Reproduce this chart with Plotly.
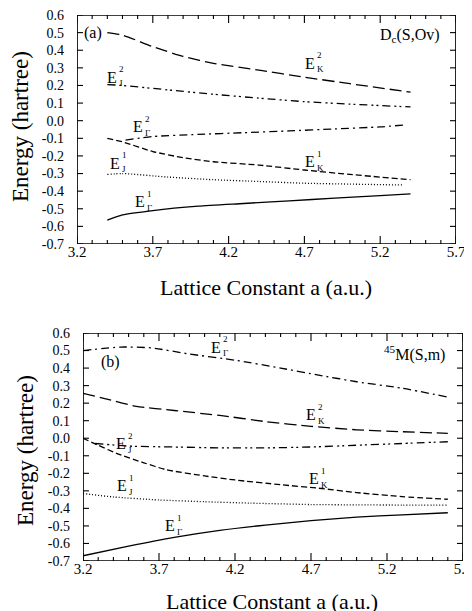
import plotly.graph_objects as go

# ---------------- data: panel (a) D_c(S,Ov) ----------------
a_EK2_x = [3.4, 3.5, 3.7, 3.9, 4.1, 4.4, 4.7, 5.0, 5.4]
a_EK2_y = [0.50, 0.486, 0.42, 0.365, 0.326, 0.287, 0.247, 0.21, 0.162]
a_EJ2_x = [3.4, 3.5, 3.8, 4.1, 4.4, 4.7, 5.0, 5.4]
a_EJ2_y = [0.205, 0.20, 0.175, 0.15, 0.128, 0.108, 0.094, 0.078]
a_EG2_x = [3.52, 3.7, 4.0, 4.3, 4.6, 4.9, 5.2, 5.35]
a_EG2_y = [-0.11, -0.09, -0.078, -0.068, -0.058, -0.047, -0.035, -0.025]
a_EK1_x = [3.4, 3.5, 3.7, 3.9, 4.1, 4.4, 4.7, 5.0, 5.4]
a_EK1_y = [-0.10, -0.12, -0.175, -0.21, -0.233, -0.252, -0.28, -0.305, -0.335]
a_EJ1_x = [3.4, 3.5, 3.8, 4.1, 4.4, 4.7, 5.0, 5.35]
a_EJ1_y = [-0.305, -0.30, -0.32, -0.335, -0.345, -0.355, -0.36, -0.365]
a_EG1_x = [3.4, 3.5, 3.7, 4.0, 4.3, 4.6, 4.9, 5.2, 5.4]
a_EG1_y = [-0.565, -0.535, -0.51, -0.485, -0.47, -0.455, -0.44, -0.425, -0.415]

# ---------------- data: panel (b) 45M(S,m) ----------------
b_EG2_x = [3.2, 3.45, 3.65, 3.9, 4.2, 4.5, 4.75, 5.0, 5.3, 5.6]
b_EG2_y = [0.50, 0.52, 0.515, 0.48, 0.445, 0.40, 0.36, 0.322, 0.285, 0.235]
b_EK2_x = [3.2, 3.35, 3.55, 3.8, 4.1, 4.4, 4.7, 5.0, 5.3, 5.6]
b_EK2_y = [0.256, 0.225, 0.182, 0.158, 0.13, 0.095, 0.068, 0.048, 0.037, 0.028]
b_EJ2_x = [3.28, 3.5, 3.8, 4.1, 4.4, 4.7, 5.0, 5.3, 5.6]
b_EJ2_y = [-0.03, -0.045, -0.05, -0.055, -0.055, -0.05, -0.04, -0.03, -0.02]
b_EK1_x = [3.2, 3.3, 3.42, 3.6, 3.75, 4.0, 4.2, 4.5, 4.75, 5.0, 5.3, 5.6]
b_EK1_y = [0.0, -0.04, -0.086, -0.14, -0.18, -0.215, -0.238, -0.265, -0.285, -0.31, -0.333, -0.348]
b_EJ1_x = [3.2, 3.4, 3.7, 4.0, 4.3, 4.7, 5.0, 5.3, 5.6]
b_EJ1_y = [-0.315, -0.335, -0.352, -0.362, -0.37, -0.378, -0.38, -0.381, -0.381]
b_EG1_x = [3.2, 3.5, 3.8, 4.1, 4.4, 4.7, 5.0, 5.3, 5.6]
b_EG1_y = [-0.67, -0.615, -0.565, -0.525, -0.495, -0.47, -0.45, -0.437, -0.425]

# ---------------- axes / tick labels ----------------
x_range = [3.2, 5.7]
y_range = [-0.7, 0.6]
x_tickvals = [3.2, 3.7, 4.2, 4.7, 5.2, 5.7]
x_ticktext = ["3.2", "3.7", "4.2", "4.7", "5.2", "5.7"]
x_minorvals = [round(3.2 + 0.1 * i, 1) for i in range(26)]
y_tickvals = [0.6, 0.5, 0.4, 0.3, 0.2, 0.1, 0.0, -0.1, -0.2, -0.3, -0.4, -0.5, -0.6, -0.7]
y_ticktext = ["0.6", "0.5", "0.4", "0.3", "0.2", "0.1", "0.0", "-0.1", "-0.2", "-0.3",
              "-0.4", "-0.5", "-0.6", "-0.7"]

SERIF = "Liberation Serif, Times New Roman, serif"
LONG = "12px,5px"
SHORT = "6px,3px"
DASHDOT = "8px,4px,2px,4px"
DASHDOTDOT = "8px,4px,2px,3px,2px,4px"
DOT = "1px,2px"

# the page body has an 8px margin: figure is 8px smaller, positions given in page px
OFF = 8
W, H = 472 - OFF, 611 - OFF
def fx(px):
    return (px - OFF) / W
def fy(py):
    return 1 - (py - OFF) / H

# panel boxes in page pixels: (left, right, top, bottom)
BOX_A = (77, 456, 15, 244)
BOX_B = (83, 463, 333, 561)

fig = go.Figure()

def add(x, y, dash, xa, ya):
    fig.add_trace(go.Scatter(x=x, y=y, mode="lines", xaxis=xa, yaxis=ya,
                             line=dict(color="black", width=1.3, dash=dash,
                                       shape="spline", smoothing=0.6),
                             showlegend=False, hoverinfo="skip"))

add(a_EK2_x, a_EK2_y, LONG, "x", "y")
add(a_EJ2_x, a_EJ2_y, DASHDOTDOT, "x", "y")
add(a_EG2_x, a_EG2_y, DASHDOT, "x", "y")
add(a_EK1_x, a_EK1_y, SHORT, "x", "y")
add(a_EJ1_x, a_EJ1_y, DOT, "x", "y")
add(a_EG1_x, a_EG1_y, "solid", "x", "y")

add(b_EG2_x, b_EG2_y, DASHDOT, "x2", "y2")
add(b_EK2_x, b_EK2_y, LONG, "x2", "y2")
add(b_EJ2_x, b_EJ2_y, DASHDOTDOT, "x2", "y2")
add(b_EK1_x, b_EK1_y, SHORT, "x2", "y2")
add(b_EJ1_x, b_EJ1_y, DOT, "x2", "y2")
add(b_EG1_x, b_EG1_y, "solid", "x2", "y2")

# frame and tick marks as line traces built from the axis ranges and tick lists
for xa, ya, box in [("x", "y", BOX_A), ("x2", "y2", BOX_B)]:
    l, r, t, b = box
    ux = (x_range[1] - x_range[0]) / (r - l)   # data units per pixel (x)
    uy = (y_range[1] - y_range[0]) / (b - t)   # data units per pixel (y)
    fig.add_trace(go.Scatter(
        x=[x_range[0], x_range[1], x_range[1], x_range[0], x_range[0]],
        y=[y_range[0], y_range[0], y_range[1], y_range[1], y_range[0]],
        mode="lines", xaxis=xa, yaxis=ya, cliponaxis=False,
        line=dict(color="black", width=1.7), showlegend=False, hoverinfo="skip"))
    tx, ty = [], []
    for v in x_minorvals:
        ln = (8 if v in x_tickvals else 4) * uy
        tx += [v, v, None, v, v, None]
        ty += [y_range[0], y_range[0] + ln, None, y_range[1], y_range[1] - ln, None]
    for v in y_tickvals:
        ln = 6 * ux
        tx += [x_range[0], x_range[0] + ln, None, x_range[1], x_range[1] - ln, None]
        ty += [v, v, None, v, v, None]
    fig.add_trace(go.Scatter(x=tx, y=ty, mode="lines", xaxis=xa, yaxis=ya,
                             cliponaxis=False, connectgaps=False,
                             line=dict(color="black", width=1.1),
                             showlegend=False, hoverinfo="skip"))

def xaxis(domain, anchor):
    return dict(domain=domain, anchor=anchor, range=x_range, automargin=False,
                tickmode="array", tickvals=x_tickvals, ticktext=x_ticktext,
                ticks="", showline=False,
                showgrid=False, zeroline=False, ticklabelstandoff=-3,
                ticklabeloverflow="allow",
                tickfont=dict(family=SERIF, size=15, color="black"))

def yaxis(domain, anchor):
    return dict(domain=domain, anchor=anchor, range=y_range, automargin=False,
                tickmode="array", tickvals=y_tickvals, ticktext=y_ticktext,
                ticks="", showline=False,
                showgrid=False, zeroline=False, ticklabelstandoff=12,
                ticklabeloverflow="allow",
                tickfont=dict(family=SERIF, size=14, color="black"))

fig.update_layout(
    width=W, height=H,
    margin=dict(l=0, r=0, t=0, b=0, autoexpand=False),
    paper_bgcolor="white", plot_bgcolor="white",
    xaxis=xaxis([fx(BOX_A[0]), fx(BOX_A[1])], "y"),
    yaxis=yaxis([fy(BOX_A[3]), fy(BOX_A[2])], "x"),
    xaxis2=xaxis([fx(BOX_B[0]), fx(BOX_B[1])], "y2"),
    yaxis2=yaxis([fy(BOX_B[3]), fy(BOX_B[2])], "x2"),
)

ann = []
def text(x, y, s, xref, yref, size=15, xanchor="center"):
    ann.append(dict(x=x, y=y, xref=xref, yref=yref, text=s, showarrow=False,
                    xanchor=xanchor, yanchor="middle",
                    font=dict(family=SERIF, size=size, color="black")))

def elabel(x, y, sub, sup, xref, yref):
    text(x, y, "E", xref, yref, 16)
    ann.append(dict(x=x, y=y, xref=xref, yref=yref, text=sub, showarrow=False,
                    xanchor="left", yanchor="middle", xshift=5, yshift=-6,
                    font=dict(family=SERIF, size=9, color="black")))
    ann.append(dict(x=x, y=y, xref=xref, yref=yref, text=sup, showarrow=False,
                    xanchor="left", yanchor="middle", xshift=5, yshift=8,
                    font=dict(family=SERIF, size=9, color="black")))

# panel (a)
text(3.307, 0.50, "(a)", "x", "y", 16)
text(5.606, 0.486, "D<sub>c</sub>(S,Ov)", "x", "y", 16, "right")
elabel(3.43, 0.246, "J", "2", "x", "y")
elabel(4.739, 0.325, "K", "2", "x", "y")
elabel(3.60, -0.035, "Γ", "2", "x", "y")
elabel(4.739, -0.233, "K", "1", "x", "y")
elabel(3.45, -0.243, "J", "1", "x", "y")
elabel(3.614, -0.459, "Γ", "1", "x", "y")

# panel (b)
text(3.378, 0.436, "(b)", "x2", "y2", 16)
text(5.593, 0.484, "<sup>45</sup>M(S,m)", "x2", "y2", 16, "right")
elabel(4.073, 0.518, "Γ", "2", "x2", "y2")
elabel(4.699, 0.133, "K", "2", "x2", "y2")
elabel(3.449, -0.031, "J", "2", "x2", "y2")
elabel(4.72, -0.232, "K", "1", "x2", "y2")
elabel(3.458, -0.27, "J", "1", "x2", "y2")
elabel(3.774, -0.499, "Γ", "1", "x2", "y2")

# axis titles
for xc, yc in [(266, 287), (272, 601)]:
    ann.append(dict(x=fx(xc), y=fy(yc), xref="paper", yref="paper",
                    text="Lattice Constant a (a.u.)", showarrow=False,
                    xanchor="center", yanchor="middle",
                    font=dict(family=SERIF, size=22, color="black")))
for xc, yc in [(20, 127), (25, 451)]:
    ann.append(dict(x=fx(xc), y=fy(yc), xref="paper", yref="paper",
                    text="Energy (hartree)", showarrow=False, textangle=-90,
                    xanchor="center", yanchor="middle",
                    font=dict(family=SERIF, size=23, color="black")))

fig.update_layout(annotations=ann)
fig.write_html("out.html")
